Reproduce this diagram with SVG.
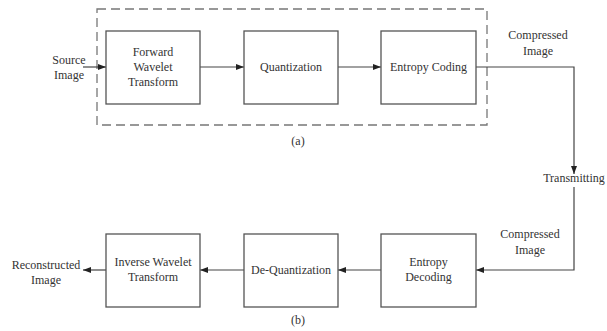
<svg xmlns="http://www.w3.org/2000/svg" width="607" height="331" viewBox="0 0 607 331">
<defs>
<marker id="ah" markerWidth="8" markerHeight="6" refX="8" refY="3" orient="auto" markerUnits="userSpaceOnUse">
<path d="M0,0 L8,3 L0,6 Z" fill="#222"/>
</marker>
<style>
.box{fill:#fff;stroke:#555;stroke-width:1.3}
.ln{fill:none;stroke:#444;stroke-width:1.2}
.t{font-family:'Liberation Serif','DejaVu Serif',serif;font-size:12px;fill:#333;text-anchor:middle}
</style>
</defs>
<rect width="607" height="331" fill="#fff"/>
<rect x="97" y="9" width="390" height="116" fill="none" stroke="#777" stroke-width="1.3" stroke-dasharray="9,5"/>
<g id="connectors">
<line class="ln" x1="83" y1="67" x2="106" y2="67" marker-end="url(#ah)"/>
<line class="ln" x1="200" y1="67" x2="244" y2="67" marker-end="url(#ah)"/>
<line class="ln" x1="338" y1="67" x2="381" y2="67" marker-end="url(#ah)"/>
<polyline class="ln" points="476,67 574,67 574,174" marker-end="url(#ah)"/>
<polyline class="ln" points="574,187 574,270 476,270" marker-end="url(#ah)"/>
<line class="ln" x1="381" y1="270" x2="338" y2="270" marker-end="url(#ah)"/>
<line class="ln" x1="244" y1="270" x2="200" y2="270" marker-end="url(#ah)"/>
<line class="ln" x1="106" y1="270" x2="83" y2="270" marker-end="url(#ah)"/>
</g>
<g id="fwt"><rect class="box" x="106" y="31" width="94" height="73"/>
<text class="t" x="153" y="56">Forward</text><text class="t" x="153" y="71">Wavelet</text><text class="t" x="153" y="86">Transform</text></g>
<g id="quant"><rect class="box" x="244" y="31" width="94" height="73"/>
<text class="t" x="291" y="71">Quantization</text></g>
<g id="ecode"><rect class="box" x="381" y="31" width="95" height="73"/>
<text class="t" x="428.5" y="71">Entropy Coding</text></g>
<g id="edecode"><rect class="box" x="381" y="234" width="95" height="73"/>
<text class="t" x="428.5" y="266">Entropy</text><text class="t" x="428.5" y="281">Decoding</text></g>
<g id="dequant"><rect class="box" x="244" y="234" width="94" height="73"/>
<text class="t" x="291" y="274">De-Quantization</text></g>
<g id="iwt"><rect class="box" x="106" y="234" width="94" height="73"/>
<text class="t" x="153" y="266">Inverse Wavelet</text><text class="t" x="153" y="281">Transform</text></g>
<g id="labels">
<text class="t" x="69" y="64">Source</text><text class="t" x="69" y="79">Image</text>
<text class="t" x="538" y="39">Compressed</text><text class="t" x="538" y="55">Image</text>
<text class="t" x="574" y="182">Transmitting</text>
<text class="t" x="530" y="238">Compressed</text><text class="t" x="530" y="254">Image</text>
<text class="t" x="46" y="269">Reconstructed</text><text class="t" x="46" y="284">Image</text>
<text class="t" x="298" y="145">(a)</text>
<text class="t" x="298" y="324">(b)</text>
</g>
</svg>
